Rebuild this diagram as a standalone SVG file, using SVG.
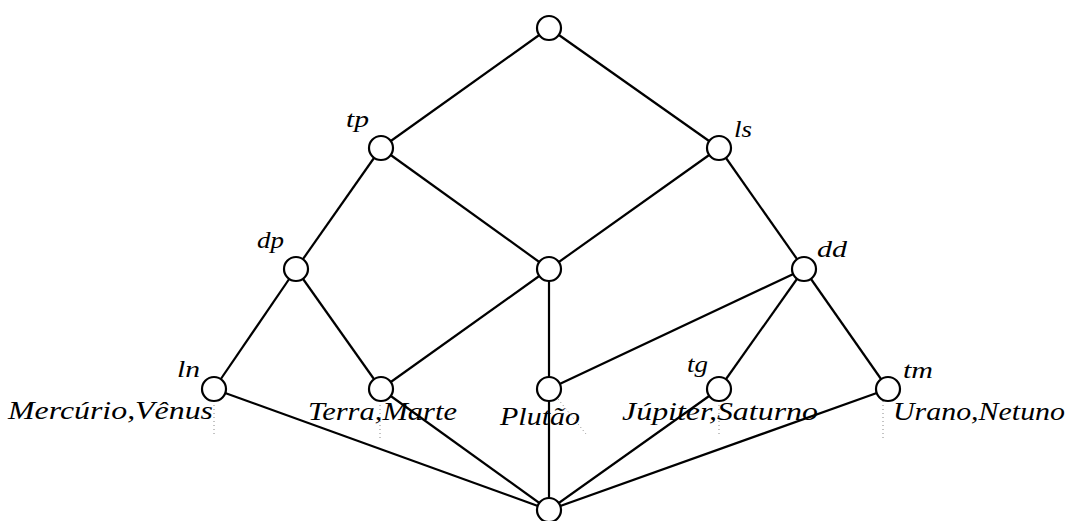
<svg xmlns="http://www.w3.org/2000/svg" width="1070" height="521" viewBox="0 0 1070 521">
<style>
.lbl{font-size:23px;fill:#000}
.big{font-size:26px;fill:#000}
.edge{stroke:#000;stroke-width:2.2;fill:none}
.pin{stroke:#888;stroke-width:1;stroke-dasharray:1 3;fill:none}
.node circle{fill:#fff;stroke:#000;stroke-width:2.2}
</style>
<rect width="1070" height="521" fill="#fff"/>
<g id="labels" font-family="'Liberation Serif', serif" font-style="italic">
<text class="big" x="8" y="419" textLength="205" lengthAdjust="spacingAndGlyphs">Mercúrio,Vênus</text>
<text class="big" x="308" y="420" textLength="149" lengthAdjust="spacingAndGlyphs">Terra,Marte</text>
<text class="big" x="500" y="425" textLength="80" lengthAdjust="spacingAndGlyphs">Plutão</text>
<text class="big" x="622" y="420" textLength="196" lengthAdjust="spacingAndGlyphs">Júpiter,Saturno</text>
<text class="big" x="893" y="420" textLength="172" lengthAdjust="spacingAndGlyphs">Urano,Netuno</text>
</g>
<g id="pins">
<line class="pin" x1="214" y1="401" x2="214" y2="436"/>
<line class="pin" x1="380" y1="401" x2="380" y2="440"/>
<line class="pin" x1="558" y1="399" x2="586" y2="434"/>
<line class="pin" x1="719" y1="401" x2="719" y2="437"/>
<line class="pin" x1="883" y1="401" x2="883" y2="438"/>
</g>
<g id="connectors">
<line class="edge" x1="549" y1="28" x2="381" y2="148"/>
<line class="edge" x1="549" y1="28" x2="719" y2="148"/>
<line class="edge" x1="381" y1="148" x2="296" y2="269"/>
<line class="edge" x1="381" y1="148" x2="549" y2="269"/>
<line class="edge" x1="719" y1="148" x2="549" y2="269"/>
<line class="edge" x1="719" y1="148" x2="804" y2="269"/>
<line class="edge" x1="296" y1="269" x2="214" y2="389"/>
<line class="edge" x1="296" y1="269" x2="381" y2="389"/>
<line class="edge" x1="549" y1="269" x2="381" y2="389"/>
<line class="edge" x1="549" y1="269" x2="549" y2="389"/>
<line class="edge" x1="804" y1="269" x2="549" y2="389"/>
<line class="edge" x1="804" y1="269" x2="719" y2="389"/>
<line class="edge" x1="804" y1="269" x2="888" y2="389"/>
<line class="edge" x1="214" y1="389" x2="549" y2="510"/>
<line class="edge" x1="381" y1="389" x2="549" y2="510"/>
<line class="edge" x1="549" y1="389" x2="549" y2="510"/>
<line class="edge" x1="719" y1="389" x2="549" y2="510"/>
<line class="edge" x1="888" y1="389" x2="549" y2="510"/>
</g>
<g font-family="'Liberation Serif', serif" font-style="italic">
<g id="n-top" class="node"><circle cx="549" cy="28" r="12"/></g>
<g id="n-tp" class="node"><circle cx="381" cy="148" r="12"/><text class="lbl" x="346" y="127" textLength="23" lengthAdjust="spacingAndGlyphs">tp</text></g>
<g id="n-ls" class="node"><circle cx="719" cy="148" r="12"/><text class="lbl" x="734" y="137" textLength="18" lengthAdjust="spacingAndGlyphs">ls</text></g>
<g id="n-dp" class="node"><circle cx="296" cy="269" r="12"/><text class="lbl" x="257" y="248" textLength="27" lengthAdjust="spacingAndGlyphs">dp</text></g>
<g id="n-mid" class="node"><circle cx="549" cy="269" r="12"/></g>
<g id="n-dd" class="node"><circle cx="804" cy="269" r="12"/><text class="lbl" x="817" y="257" textLength="30" lengthAdjust="spacingAndGlyphs">dd</text></g>
<g id="n-ln" class="node"><circle cx="214" cy="389" r="12"/><text class="lbl" x="177" y="377" textLength="23" lengthAdjust="spacingAndGlyphs">ln</text></g>
<g id="n-terra" class="node"><circle cx="381" cy="389" r="12"/></g>
<g id="n-pluto" class="node"><circle cx="549" cy="389" r="12"/></g>
<g id="n-tg" class="node"><circle cx="719" cy="389" r="12"/><text class="lbl" x="687" y="372" textLength="21" lengthAdjust="spacingAndGlyphs">tg</text></g>
<g id="n-tm" class="node"><circle cx="888" cy="389" r="12"/><text class="lbl" x="903" y="378" textLength="30" lengthAdjust="spacingAndGlyphs">tm</text></g>
<g id="n-bottom" class="node"><circle cx="549" cy="510" r="12"/></g>
</g>
</svg>
